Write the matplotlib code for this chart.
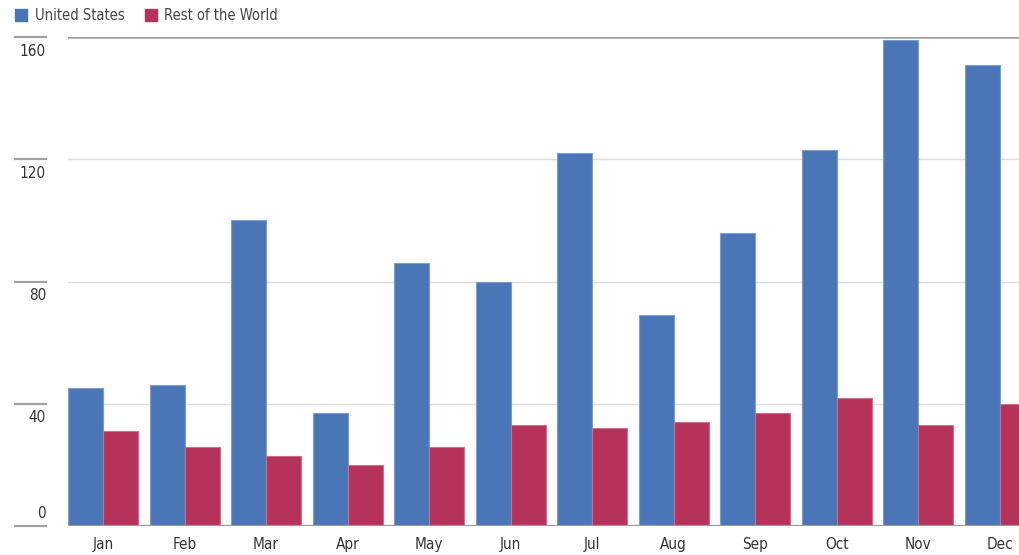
import matplotlib.pyplot as plt
import numpy as np

months = ['Jan', 'Feb', 'Mar', 'Apr', 'May', 'Jun', 'Jul', 'Aug', 'Sep', 'Oct', 'Nov', 'Dec']
us = [45, 46, 100, 37, 86, 80, 122, 69, 96, 123, 159, 151]
rest = [31, 26, 23, 20, 26, 33, 32, 34, 37, 42, 33, 40]
yticks = [0, 40, 80, 120, 160]

plt.rcParams['font.family'] = ['DejaVu Sans']
plt.rcParams['font.stretch'] = 'condensed'

blue = '#4a76b7'
red = '#b5325a'
fs = 10.5

fig = plt.figure()
fig.set_size_inches(10.2, 5.55)
ax = fig.add_axes([68 / 1020, 29 / 555, 1 - 68 / 1020, 489 / 555])

x = np.arange(len(months))
w = 0.43
ax.bar(x - w / 2, us, w, color=blue, edgecolor='#7c9dcf', linewidth=0.8, zorder=3)
ax.bar(x + w / 2, rest, w, color=red, edgecolor='#cd6f8b', linewidth=0.8, zorder=3)

ax.set_xlim(-0.43, 11.25)
ax.set_ylim(0, 160)
for s in ax.spines.values():
    s.set_visible(False)
ax.set_yticks([])
ax.set_xticks(x)
ax.set_xticklabels(months, fontsize=11, color='#333333', fontstretch='condensed')
ax.tick_params(axis='x', length=0, pad=8)

# gridlines + short tick marks on the left
for t in yticks:
    if t == 160:
        c, lw = '#a0a0a0', 1.8
    elif t == 0:
        c, lw = '#9a9a9a', 1.6
    else:
        c, lw = '#dcdcdc', 1.0
    ax.axhline(t, color=c, linewidth=lw, zorder=2 if t else 4)
    y_fig = (29 + t * 489 / 160) / 555
    fig.add_artist(plt.Line2D([15 / 1020, 46 / 1020], [y_fig, y_fig], color='#a0a0a0', linewidth=1.6,
                              transform=fig.transFigure))
    off = 13 / 555 if t == 0 else -14 / 555
    fig.text(46 / 1020, y_fig + off, str(t), ha='right', va='center', fontsize=11,
             color='#333333', fontstretch='condensed')

# legend
fig.patches.append(plt.Rectangle((15 / 1020, 1 - 21 / 555), 12 / 1020, 12 / 555, color=blue,
                                 transform=fig.transFigure, figure=fig))
fig.text(35 / 1020, 1 - 15 / 555, 'United States', va='center', fontsize=fs, color='#444444',
         fontstretch='condensed')
fig.patches.append(plt.Rectangle((145 / 1020, 1 - 21 / 555), 12 / 1020, 12 / 555, color=red,
                                 transform=fig.transFigure, figure=fig))
fig.text(164 / 1020, 1 - 15 / 555, 'Rest of the World', va='center', fontsize=fs, color='#444444',
         fontstretch='condensed')

fig.savefig('out.png', dpi=100)
